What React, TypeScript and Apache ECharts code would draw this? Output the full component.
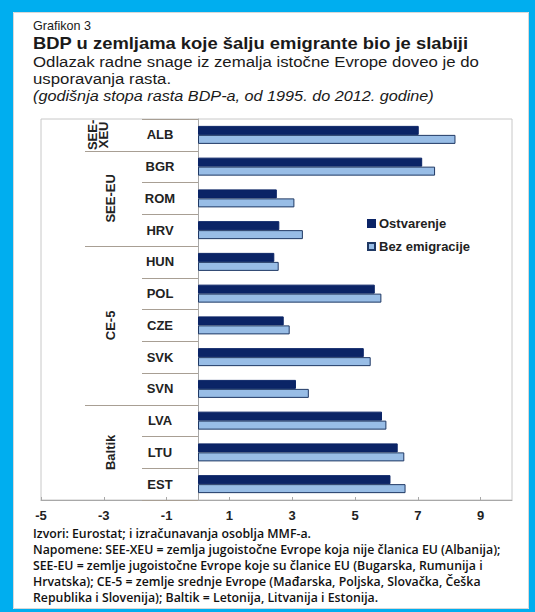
import React, { useEffect, useRef } from "react";
import * as echarts from "echarts";

const categories = ["ALB", "BGR", "ROM", "HRV", "HUN", "POL", "CZE", "SVK", "SVN", "LVA", "LTU", "EST"];
const ostvarenje = [7.03, 7.14, 2.51, 2.59, 2.43, 5.63, 2.73, 5.28, 3.12, 5.86, 6.36, 6.13];
const bezEmigracije = [8.2, 7.55, 3.07, 3.34, 2.57, 5.84, 2.92, 5.5, 3.53, 6.0, 6.57, 6.61];
const groupNames = ["SEE-\nXEU", "SEE-EU", "CE-5", "Baltik"];
const groupSizes = [1, 3, 5, 3];
const xTickValues = [-5, -3, -1, 1, 3, 5, 7, 9];
const seriesNames = ["Ostvarenje", "Bez emigracije"];

const titleLines = [
  { text: "Grafikon 3", font: '12px "Liberation Sans"', y: 26, sx: 1.05 },
  { text: "BDP u zemljama koje šalju emigrante bio je slabiji", font: 'bold 16px "Liberation Sans"', y: 43, sx: 1.15 },
  { text: "Odlazak radne snage iz zemalja istočne Evrope doveo je do", font: '15px "Liberation Sans"', y: 62, sx: 1.12 },
  { text: "usporavanja rasta.", font: '15px "Liberation Sans"', y: 79, sx: 1.12 },
  { text: "(godišnja stopa rasta BDP-a, od 1995. do 2012. godine)", font: 'italic 15px "Liberation Sans"', y: 96, sx: 1.08 },
];
const noteLines = [
  "Izvori: Eurostat; i izračunavanja osoblja MMF-a.",
  "Napomene: SEE-XEU = zemlja jugoistočne Evrope koja nije članica EU (Albanija);",
  "SEE-EU = zemlje jugoistočne Evrope koje su članice EU (Bugarska, Rumunija i",
  "Hrvatska); CE-5 = zemlje srednje Evrope (Mađarska, Poljska, Slovačka, Češka",
  "Republika i Slovenija); Baltik = Letonija, Litvanija i Estonija.",
];

const DARK = "#0b2466";
const LIGHT = "#98bde6";
const CYAN = "#00aeef";

export default function App() {
  const ref = useRef<HTMLDivElement>(null);
  useEffect(() => {
    if (!ref.current) return;
    const chart = echarts.init(ref.current, null, { renderer: "svg" });
    const option: any = {
      animation: false,
      backgroundColor: "#ffffff",
      textStyle: { fontFamily: '"Liberation Sans", Arial, sans-serif' },
      grid: {
        left: 41,
        top: 119,
        width: 471,
        height: 381,
        show: true,
        containLabel: false,
        outerBoundsMode: "none",
        borderColor: "#c8c8c8",
        borderWidth: 1,
        backgroundColor: "transparent",
      },
      legend: {
        left: 362,
        top: 212,
        orient: "vertical",
        itemWidth: 7,
        itemHeight: 7,
        itemGap: 10,
        icon: "rect",
        data: seriesNames,
        textStyle: { fontWeight: "bold", fontSize: 13, color: "#222", fontFamily: '"Liberation Sans"', padding: [0, 0, 0, -1] },
      },
      xAxis: {
        type: "value",
        min: -5,
        max: 10,
        splitLine: { show: false },
        axisLine: { show: true, onZero: false, lineStyle: { color: "#a8a8a8" } },
        axisTick: { show: true, inside: true, length: 3, customValues: xTickValues, lineStyle: { color: "#a8a8a8" } },
        axisLabel: {
          customValues: xTickValues,
          fontWeight: "bold",
          fontSize: 13,
          color: "#222",
          margin: 9,
        },
      },
      yAxis: {
        type: "category",
        inverse: true,
        data: categories,
        position: "left",
        offset: 0,
        axisLine: { show: true, onZero: false, lineStyle: { color: "#a8a8a8" } },
        axisTick: { show: true, length: 56, lineStyle: { color: "#a89f94" } },
        axisLabel: {
          align: "center",
          margin: 38,
          fontWeight: "bold",
          fontSize: 13,
          color: "#222",
        },
        splitLine: { show: false },
      },
      series: [
        {
          name: seriesNames[0],
          type: "bar",
          data: ostvarenje,
          barWidth: 9,
          barGap: "0%",
          itemStyle: { color: DARK, borderColor: DARK, borderWidth: 1 },
        },
        {
          name: seriesNames[1],
          type: "bar",
          data: bezEmigracije,
          barWidth: 9,
          barGap: "0%",
          itemStyle: { color: LIGHT, borderColor: "#1f3864", borderWidth: 1 },
        },
      ],
    };
    chart.setOption(option);

    const xMinPix = chart.convertToPixel({ xAxisIndex: 0 }, -5) as number;
    const x0 = chart.convertToPixel({ xAxisIndex: 0 }, 0) as number;
    // move the category axis onto the value 0
    chart.setOption({ yAxis: { offset: -(x0 - xMinPix) } });

    const yPix = (i: number) => chart.convertToPixel({ yAxisIndex: 0 }, categories[i]) as number;
    const band = yPix(1) - yPix(0);

    const graphics: any[] = [];
    // frame
    graphics.push({ type: "rect", shape: { x: 0, y: 0, width: 535, height: 12 }, style: { fill: CYAN }, silent: true });
    graphics.push({ type: "rect", shape: { x: 0, y: 0, width: 13, height: 612 }, style: { fill: CYAN }, silent: true });
    graphics.push({ type: "rect", shape: { x: 529, y: 0, width: 6, height: 612 }, style: { fill: CYAN }, silent: true });
    graphics.push({ type: "rect", shape: { x: 0, y: 609, width: 535, height: 3 }, style: { fill: CYAN }, silent: true });
    graphics.push({ type: "rect", shape: { x: 13.5, y: 12.5, width: 515, height: 596 }, style: { fill: "none", stroke: "#d8d8d8", lineWidth: 1 }, silent: true });

    titleLines.forEach((t) => {
      graphics.push({
        type: "text",
        x: 33,
        y: t.y,
        scaleX: t.sx,
        style: { text: t.text, font: t.font, fill: "#1a1a1a", align: "left", textAlign: "left", verticalAlign: "middle", textVerticalAlign: "middle" },
      });
    });
    noteLines.forEach((t, i) => {
      graphics.push({
        type: "text",
        x: 33,
        y: 533 + i * 16,
        style: { text: t, font: '600 12.3px "Open Sans"', fill: "#111", align: "left", textAlign: "left", verticalAlign: "middle", textVerticalAlign: "middle" },
      });
    });

    let start = 0;
    groupNames.forEach((g, gi) => {
      const size = groupSizes[gi];
      const first = yPix(start);
      const last = yPix(start + size - 1);
      const center = (first + last) / 2;
      const multi = g.indexOf("\n") >= 0;
      graphics.push({
        type: "text",
        x: x0 - (multi ? 100 : 88),
        y: center,
        rotation: Math.PI / 2,
        style: {
          text: g,
          font: 'bold 13px "Liberation Sans"',
          fill: "#222",
          align: "center",
          textAlign: "center",
          verticalAlign: "middle",
          textVerticalAlign: "middle",
          lineHeight: 11,
        },
      });
      start += size;
      if (start < categories.length) {
        const yb = Math.round(last + band / 2) + 0.5;
        graphics.push({
          type: "line",
          shape: { x1: x0 - 113, y1: yb, x2: x0, y2: yb },
          style: { stroke: "#a89f94", lineWidth: 1 },
          silent: true,
        });
      }
    });

    chart.setOption({ graphic: graphics });
    return () => chart.dispose();
  }, []);
  return (
    <div
      ref={ref}
      style={{ position: "fixed", left: 0, top: 0, width: 535, height: 612 }}
    />
  );
}
